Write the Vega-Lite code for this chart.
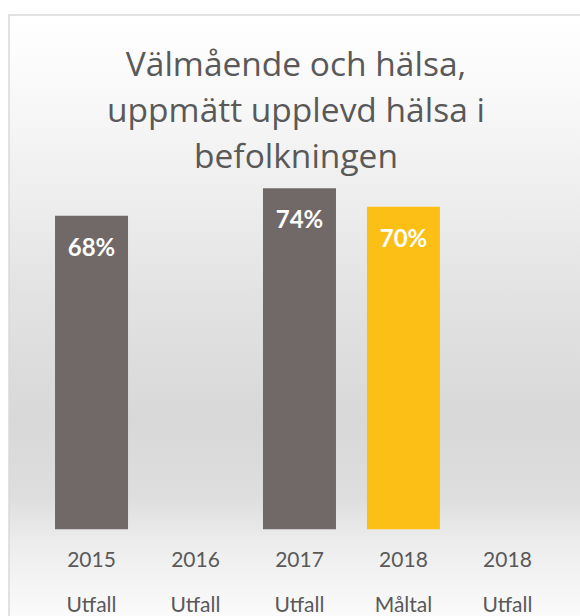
{
  "$schema": "https://vega.github.io/schema/vega-lite/v6.json",
  "autosize": {"type": "none"},
  "padding": {"left": 9, "top": 15, "right": -3, "bottom": -3},
  "width": 574,
  "height": 604,
  "background": "#ffffff",
  "title": {
    "text": ["Välmående och hälsa,", "uppmätt upplevd hälsa i", "befolkningen"],
    "font": "Open Sans",
    "fontSize": 33.5,
    "fontWeight": "normal",
    "color": "#595959",
    "lineHeight": 46,
    "anchor": "middle",
    "frame": "group",
    "offset": -160
  },
  "config": {
    "view": {
      "stroke": "#d9d9d9",
      "strokeWidth": 1.5,
      "fill": {
        "gradient": "linear",
        "x1": 0, "y1": 0, "x2": 0, "y2": 1,
        "stops": [
          {"offset": 0, "color": "#ffffff"},
          {"offset": 0.14, "color": "#f8f8f8"},
          {"offset": 0.31, "color": "#ededed"},
          {"offset": 0.47, "color": "#e2e2e2"},
          {"offset": 0.67, "color": "#d8d8d8"},
          {"offset": 0.8, "color": "#dedede"},
          {"offset": 0.87, "color": "#ececec"},
          {"offset": 1, "color": "#fbfbfb"}
        ]
      }
    }
  },
  "data": {
    "values": [
      {"kategori": "2015 Utfall", "varde": 0.68, "typ": "Utfall"},
      {"kategori": "2016 Utfall", "varde": null, "typ": "Utfall"},
      {"kategori": "2017 Utfall", "varde": 0.74, "typ": "Utfall"},
      {"kategori": "2018 Måltal", "varde": 0.70, "typ": "Måltal"},
      {"kategori": "2018 Utfall", "varde": null, "typ": "Utfall"}
    ]
  },
  "encoding": {
    "x": {
      "field": "kategori",
      "type": "nominal",
      "sort": null,
      "scale": {
        "domain": ["2015 Utfall", "2016 Utfall", "2017 Utfall", "2018 Måltal", "2018 Utfall"],
        "paddingInner": 0.298,
        "paddingOuter": 0.409,
        "align": 0.541
      },
      "axis": {
        "title": null,
        "domain": false,
        "ticks": false,
        "grid": false,
        "labelAngle": 0,
        "labelExpr": "split(datum.label, ' ')",
        "labelFont": "Lato",
        "labelFontSize": 21,
        "labelColor": "#595959",
        "labelLineHeight": 45,
        "labelPadding": 8,
        "offset": -78
      }
    },
    "y": {
      "field": "varde",
      "type": "quantitative",
      "scale": {"domain": [-0.195, 1.116], "nice": false, "zero": false},
      "axis": null
    }
  },
  "layer": [
    {
      "mark": {"type": "bar"},
      "encoding": {
        "color": {
          "field": "typ",
          "type": "nominal",
          "scale": {"domain": ["Utfall", "Måltal"], "range": ["#706968", "#fcbf16"]},
          "legend": null
        }
      }
    },
    {
      "mark": {
        "type": "text",
        "font": "Lato",
        "fontSize": 24,
        "fontWeight": "bold",
        "color": "#ffffff",
        "baseline": "middle",
        "dy": 33
      },
      "encoding": {
        "text": {"field": "varde", "type": "quantitative", "format": ".0%"}
      }
    }
  ]
}
